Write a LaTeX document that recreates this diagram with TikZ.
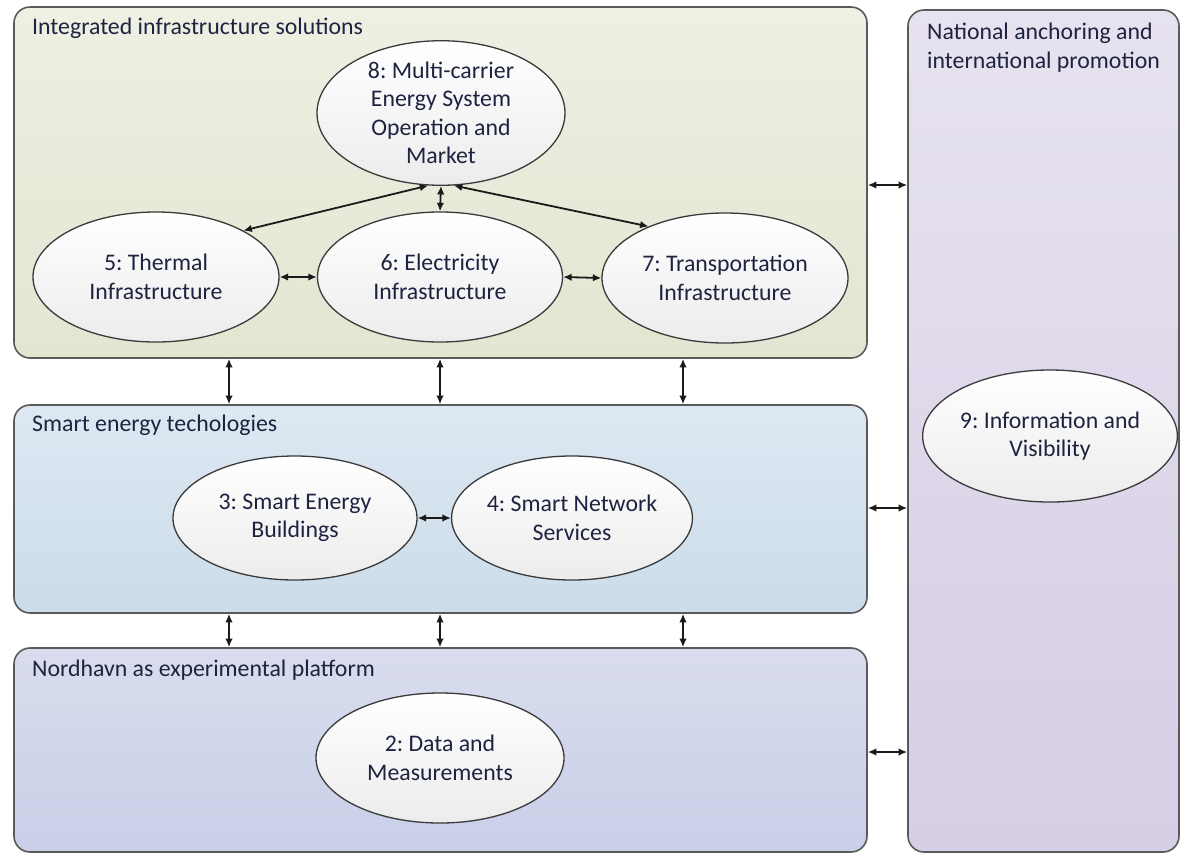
\documentclass[tikz,border=0pt]{standalone}
\usepackage{fontspec}
\setmainfont{Carlito}
\usetikzlibrary{arrows.meta,shapes.geometric}
\definecolor{txt}{HTML}{1E2340}
\definecolor{gonet}{HTML}{EEF0E3}
\definecolor{goneb}{HTML}{E1E6D1}
\definecolor{gtwot}{HTML}{DDE8F2}
\definecolor{gtwob}{HTML}{CBDCEA}
\definecolor{gthrt}{HTML}{D9DDEE}
\definecolor{gthrb}{HTML}{C8CFE7}
\definecolor{gfout}{HTML}{E7E2EF}
\definecolor{gfoub}{HTML}{D6CEE5}
\definecolor{bordergray}{HTML}{5A5A5A}
\definecolor{ellgray}{HTML}{3A3A3A}
\definecolor{linec}{HTML}{1A1A1A}
\definecolor{ellbot}{HTML}{ECECEC}
\newcommand{\fsz}{\frenchspacing\fontsize{23.8}{28.5}\selectfont}
\begin{document}
\begin{tikzpicture}[x=1pt,y=-1pt,
  panel/.style={draw=bordergray, line width=1.6pt, rounded corners=16pt, inner sep=0pt},
  bub/.style={ellipse, draw=ellgray, line width=1.3pt, top color=white, bottom color=ellbot,
    inner sep=0pt, align=center, font=\fsz, text=txt},
  link/.style={{Latex[length=8.5pt,width=7.5pt]}-{Latex[length=8.5pt,width=7.5pt]}, line width=1.8pt, draw=linec},
  lbl/.style={font=\fsz, text=txt, align=left, inner sep=0pt}]
\useasboundingbox[fill=white] (0,0) rectangle (1181,855);

% panels
\node[panel, top color=gonet, bottom color=goneb, minimum width=853pt, minimum height=351pt] (p1) at (440.5,182.5) {};
\node[panel, top color=gtwot, bottom color=gtwob, minimum width=853pt, minimum height=208pt] (p2) at (440.5,509) {};
\node[panel, top color=gthrt, bottom color=gthrb, minimum width=853pt, minimum height=204pt] (p3) at (440.5,750) {};
\node[panel, top color=gfout, bottom color=gfoub, minimum width=271pt, minimum height=842pt] (p4) at (1043.5,431) {};

% panel labels
\node[lbl, anchor=west] (l1) at (32,28) {Integrated infrastructure solutions};
\node[lbl, anchor=west] (l2) at (32,425) {Smart energy techologies};
\node[lbl, anchor=west] (l3) at (32,670) {Nordhavn as experimental platform};
\node[lbl, anchor=north west] (l4) at (927,23) {National anchoring and\\international promotion};

% ellipses
\node[bub, minimum width=248pt, minimum height=130pt] (e8) at (441,113) {8: Multi-carrier\\Energy System\\Operation and\\Market};
\node[bub, minimum width=246pt, minimum height=130pt] (e5) at (156,277) {5: Thermal\\Infrastructure};
\node[bub, minimum width=245pt, minimum height=130pt] (e6) at (440,277) {6: Electricity\\Infrastructure};
\node[bub, minimum width=246pt, minimum height=130pt] (e7) at (725,278) {7: Transportation\\Infrastructure};
\node[bub, minimum width=244pt, minimum height=124pt] (e3) at (295,518) {3: Smart Energy\\Buildings};
\node[bub, minimum width=240pt, minimum height=124pt] (e4) at (572,518) {4: Smart Network\\Services};
\node[bub, minimum width=248pt, minimum height=130pt] (e2) at (440,758) {2: Data and\\Measurements};
\node[bub, minimum width=244pt, minimum height=132pt] (e9) at (1050,436) {9: Information and\\Visibility};

% links inside panel 1
\draw[link] (e8.260) -- (e5.28);
\draw[link] (e8.south) -- (e6.north);
\draw[link] (e8.280) -- (e7.146);
\draw[link] (e5.east) -- (e6.west);
\draw[link] (e6.east) -- (e7.west);
\draw[link] (e3.east) -- (e4.west);

% vertical links between panels
\coordinate (va) at (229,0);
\coordinate (vb) at (440,0);
\coordinate (vc) at (683,0);
\foreach \v in {va,vb,vc}{
  \draw[link] (p1.south -| \v) -- (p2.north -| \v);
  \draw[link] (p2.south -| \v) -- (p3.north -| \v);
}

% horizontal links to panel 4
\coordinate (ha) at (0,185);
\coordinate (hb) at (0,508);
\coordinate (hc) at (0,752);
\draw[link] (p1.east |- ha) -- (p4.west |- ha);
\draw[link] (p2.east |- hb) -- (p4.west |- hb);
\draw[link] (p3.east |- hc) -- (p4.west |- hc);
\end{tikzpicture}
\end{document}
